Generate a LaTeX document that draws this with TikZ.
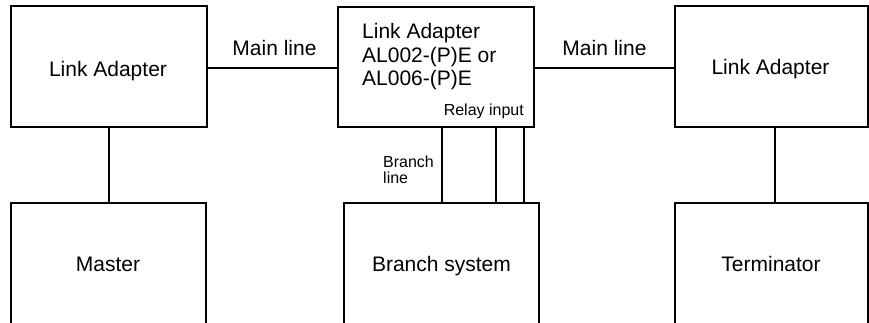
\documentclass[tikz,border=0pt]{standalone}
\usepackage{fontspec}
\setmainfont{Liberation Sans}
\begin{document}
\begin{tikzpicture}[x=1pt,y=-1pt,
  box/.style={draw,line width=2pt,rectangle,inner sep=0pt,outer sep=0pt,anchor=north west},
  conn/.style={line width=2pt},
  big/.style={inner sep=0pt,font=\fontsize{21}{23.5}\selectfont},
  small/.style={inner sep=0pt,font=\fontsize{16}{16}\selectfont}]
\path[use as bounding box,clip] (0,0) rectangle (869,322);
% boxes
\node[box,minimum width=196pt,minimum height=121pt] (la1) at (11,6) {};
\node[box,minimum width=196pt,minimum height=120pt] (mid) at (338,7) {};
\node[box,minimum width=193pt,minimum height=121pt] (la2) at (675,6) {};
\node[box,minimum width=195pt,minimum height=140pt] (mas) at (11,203) {};
\node[box,minimum width=195pt,minimum height=140pt] (bs) at (344,203) {};
\node[box,minimum width=193pt,minimum height=140pt] (term) at (675,203) {};
% texts
\node[big,anchor=base] (t1) at (108,76) {Link Adapter};
\node[big,anchor=base west] (m1) at (362,38) {Link Adapter};
\node[big,anchor=base west] (m2) at (362,62) {AL002-(P)E or};
\node[big,anchor=base west] (m3) at (362,85) {AL006-(P)E};
\node[small,anchor=base east] (ri) at (524,115) {Relay input};
\node[big,anchor=base] (t2) at (770.5,74) {Link Adapter};
\node[big,anchor=base] (t3) at (108,271) {Master};
\node[big,anchor=base] (t4) at (441.5,271) {Branch system};
\node[big,anchor=base] (t5) at (771,271) {Terminator};
\node[big,anchor=base] (ml1) at (274.5,55) {Main line};
\node[big,anchor=base] (ml2) at (604.5,55) {Main line};
\node[small,anchor=base west] (bl1) at (383,167) {Branch};
\node[small,anchor=base west] (bl2) at (383,183) {line};
% connector coordinates
\coordinate (yml) at (0,68);
\coordinate (xl) at (109,0);
\coordinate (xr) at (775,0);
\coordinate (b1) at (442,0);
\coordinate (b2) at (496,0);
\coordinate (b3) at (524,0);
% connectors
\draw[conn] (la1.east |- yml) -- (mid.west |- yml);
\draw[conn] (mid.east |- yml) -- (la2.west |- yml);
\draw[conn] (la1.south -| xl) -- (mas.north -| xl);
\draw[conn] (la2.south -| xr) -- (term.north -| xr);
\draw[conn] (mid.south -| b1) -- (bs.north -| b1);
\draw[conn] (mid.south -| b2) -- (bs.north -| b2);
\draw[conn] (mid.south -| b3) -- (bs.north -| b3);
\end{tikzpicture}
\end{document}
